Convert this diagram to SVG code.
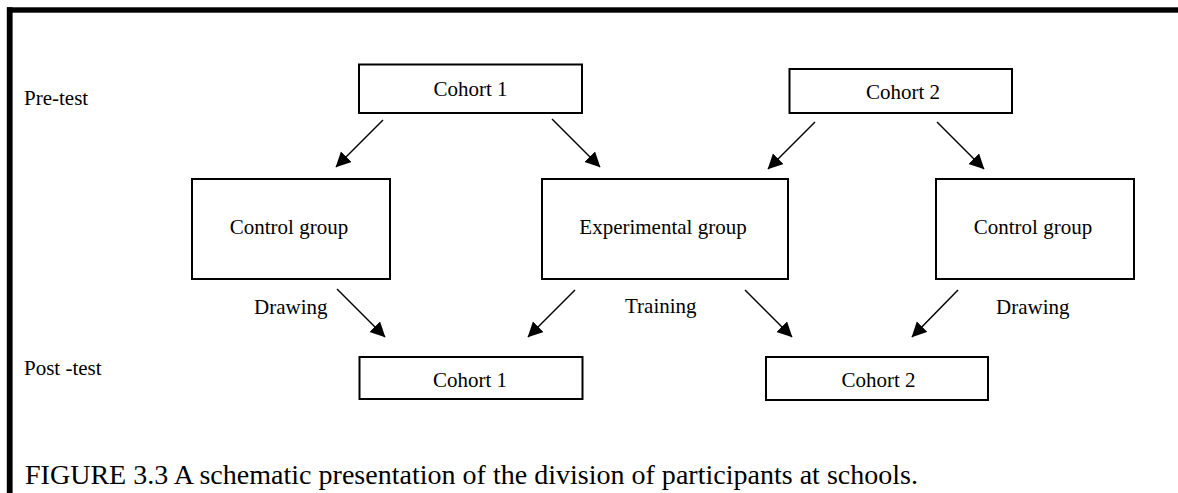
<svg xmlns="http://www.w3.org/2000/svg" width="1178" height="493" viewBox="0 0 1178 493">
<style>
.box{fill:#fff;stroke:#000;stroke-width:2}
.t{font-family:"Liberation Serif","Times New Roman",serif;font-size:21px;fill:#000}
.c{text-anchor:middle}
.conn line{stroke:#000;stroke-width:1.5;marker-end:url(#ah)}
</style>
<defs>
<marker id="ah" markerUnits="userSpaceOnUse" markerWidth="16" markerHeight="16" refX="14.5" refY="7.5" orient="auto">
<path d="M0,0 L15,7.5 L0,15 z" fill="#000"/>
</marker>
</defs>
<rect x="7" y="7.3" width="1171" height="5.4" fill="#000"/>
<rect x="6.8" y="7.3" width="5.8" height="486" fill="#000"/>
<text class="t" x="24" y="105">Pre-test</text>
<text class="t" x="24" y="375">Post -test</text>
<g id="cohort1-pre"><rect class="box" x="359" y="64.5" width="223" height="48.5"/><text class="t c" x="470.5" y="96">Cohort 1</text></g>
<g id="cohort2-pre"><rect class="box" x="789.5" y="69" width="222.5" height="44"/><text class="t c" x="903" y="98.5">Cohort 2</text></g>
<g id="control-left"><rect class="box" x="192" y="179" width="198" height="100"/><text class="t c" x="289" y="233.5">Control group</text></g>
<g id="experimental"><rect class="box" x="542" y="179" width="246" height="100"/><text class="t c" x="663" y="233.5">Experimental group</text></g>
<g id="control-right"><rect class="box" x="936" y="179" width="198" height="100"/><text class="t c" x="1033" y="233.5">Control group</text></g>
<g id="cohort1-post"><rect class="box" x="359.5" y="357" width="223" height="42"/><text class="t c" x="470" y="386.5">Cohort 1</text></g>
<g id="cohort2-post"><rect class="box" x="766" y="357" width="222" height="43"/><text class="t c" x="878.5" y="387">Cohort 2</text></g>
<g id="labels">
<text class="t" x="254" y="313.5">Drawing</text>
<text class="t" x="625" y="312.5">Training</text>
<text class="t" x="996" y="313.5">Drawing</text>
</g>
<g class="conn" id="connectors">
<line x1="383" y1="120" x2="336" y2="167"/>
<line x1="552" y1="119" x2="600" y2="167"/>
<line x1="815" y1="122" x2="768" y2="169"/>
<line x1="937" y1="122" x2="984" y2="169"/>
<line x1="337" y1="289" x2="385" y2="337"/>
<line x1="575" y1="290" x2="528" y2="337"/>
<line x1="745" y1="290" x2="792" y2="337"/>
<line x1="958" y1="290" x2="912" y2="337"/>
</g>
<text class="t" x="25" y="483.5" style="font-size:28px" textLength="893" lengthAdjust="spacingAndGlyphs">FIGURE 3.3 A schematic presentation of the division of participants at schools.</text>
</svg>
